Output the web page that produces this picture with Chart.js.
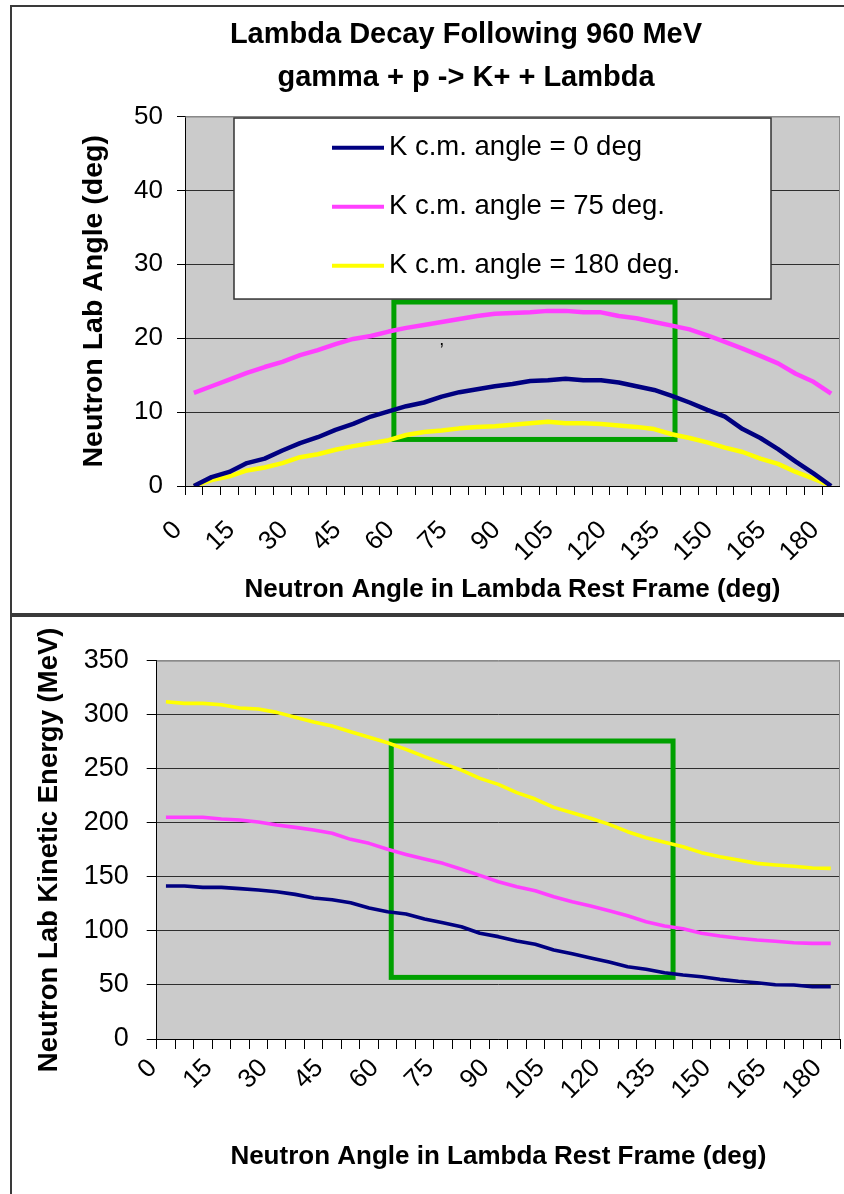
<!DOCTYPE html>
<html>
<head>
<meta charset="utf-8">
<title>Lambda Decay Following 960 MeV</title>
<script src="https://cdn.jsdelivr.net/npm/chart.js@4.4.1/dist/chart.umd.min.js"></script>
<style>
  html, body { margin: 0; padding: 0; background: #fff; }
  body { position: relative; width: 844px; height: 1194px; overflow: hidden; }
  .frame { position: absolute; left: 10px; width: 834px; border-left: 2px solid #3a3a3a; box-sizing: border-box; }
  #topFrame { top: 5px; height: 610px; border-top: 2px solid #3a3a3a; border-bottom: 2px solid #3a3a3a; }
  #bottomFrame { top: 615px; height: 579px; border-top: 2px solid #3a3a3a; }
  canvas { position: absolute; left: 0; }
  #angleChart { top: 0; }
  #energyChart { top: 616px; }
</style>
</head>
<body>
<div class="frame" id="topFrame"></div>
<div class="frame" id="bottomFrame"></div>
<canvas id="angleChart" width="840" height="612"></canvas>
<canvas id="energyChart" width="844" height="578"></canvas>

<script>
// ============================================================
// Data: neutron angle in the Lambda rest frame (deg), step 5
// ============================================================
const restAngles = ['0', '5', '10', '15', '20', '25', '30', '35', '40', '45', '50', '55', '60',
  '65', '70', '75', '80', '85', '90', '95', '100', '105', '110', '115', '120', '125', '130',
  '135', '140', '145', '150', '155', '160', '165', '170', '175', '180'];

const seriesNames = ['K c.m. angle = 0 deg', 'K c.m. angle = 75 deg.', 'K c.m. angle = 180 deg.'];
const seriesColors = ['#000080', '#ff40ff', '#ffff00'];

// Neutron lab angle (deg)
const labAngleK0 = [0, 1.2, 1.9, 3.1, 3.7, 4.8, 5.8, 6.6, 7.6, 8.4, 9.4, 10.1, 10.8, 11.3, 12.1,
  12.7, 13.1, 13.5, 13.8, 14.2, 14.3, 14.5, 14.3, 14.3, 14.0, 13.5, 13.0, 12.2, 11.3, 10.3, 9.4,
  7.7, 6.5, 5.0, 3.3, 1.7, 0];
const labAngleK75 = [12.6, 13.5, 14.4, 15.3, 16.1, 16.8, 17.7, 18.4, 19.2, 19.9, 20.3, 20.9, 21.4,
  21.8, 22.2, 22.6, 23.0, 23.3, 23.4, 23.5, 23.7, 23.7, 23.5, 23.5, 23.0, 22.7, 22.2, 21.7, 21.2,
  20.4, 19.5, 18.6, 17.6, 16.6, 15.2, 14.1, 12.5];
const labAngleK180 = [0, 0.8, 1.3, 2.1, 2.5, 3.1, 3.9, 4.3, 4.9, 5.4, 5.8, 6.2, 6.9, 7.3, 7.5, 7.8,
  8.0, 8.1, 8.3, 8.5, 8.7, 8.5, 8.5, 8.4, 8.2, 8.0, 7.7, 7.0, 6.5, 5.9, 5.2, 4.6, 3.7, 3.0, 1.9,
  1.0, 0];

// Neutron lab kinetic energy (MeV)
const energyK0 = [141.5, 141.5, 140.3, 140.3, 139.1, 137.8, 136.3, 133.8, 130.4, 128.9, 126.1,
  121.2, 117.8, 115.6, 111.0, 107.6, 103.9, 97.8, 94.7, 90.7, 87.6, 82.3, 78.9, 74.9, 71.2, 66.9,
  64.5, 61.3, 59.2, 57.6, 55.2, 53.4, 52.1, 50.2, 50.0, 48.4, 48.4];
const energyK75 = [205.1, 205.1, 205.1, 203.5, 202.6, 200.7, 198.0, 195.8, 193.3, 190.3, 184.7,
  181.0, 175.5, 170.8, 166.5, 162.5, 157.0, 151.4, 145.5, 140.9, 137.2, 131.6, 127.0, 123.0, 118.7,
  114.1, 108.5, 104.5, 102.0, 97.8, 95.3, 93.2, 91.6, 90.4, 89.1, 88.5, 88.5];
const energyK180 = [312.0, 310.5, 310.5, 309.3, 306.2, 305.3, 302.2, 297.6, 293.3, 289.5, 284.3,
  279.1, 274.1, 268.0, 261.2, 255.0, 248.8, 241.1, 235.6, 227.9, 222.0, 214.3, 209.4, 204.2, 198.6,
  191.8, 186.2, 182.0, 177.9, 172.4, 168.6, 165.6, 162.5, 161.0, 159.8, 158.2, 157.9];

// Highlighted windows: [from deg, to deg] x [low, high] in axis units
const angleWindowX = [56.5, 135.9];
const angleWindowY = [6.3, 24.9];
const energyWindowX = [61, 137.3];
const energyWindowY = [57, 275.7];

const ANGLE_STEP = 5;     // degrees between categories
const LABEL_EVERY = 3;    // one tick label per 15 deg

Chart.defaults.font.family = '"Liberation Sans", Arial, sans-serif';
Chart.defaults.color = '#000';

// ============================================================
// Plugins
// ============================================================

// Grey plot area, thin grey frame along the top and right
const plotArea = {
  id: 'plotArea',
  beforeDraw(chart, args, opts) {
    const { ctx, chartArea: a } = chart;
    ctx.save();
    ctx.fillStyle = opts.color;
    ctx.fillRect(a.left, a.top, a.width, a.height);
    ctx.restore();
  },
  beforeDatasetsDraw(chart, args, opts) {
    const { ctx, chartArea: a } = chart;
    ctx.save();
    ctx.strokeStyle = opts.borderColor;
    ctx.lineWidth = 1;
    ctx.beginPath();
    ctx.moveTo(a.left, a.top + 0.5);
    ctx.lineTo(a.right - 0.5, a.top + 0.5);
    ctx.lineTo(a.right - 0.5, a.bottom);
    ctx.stroke();
    ctx.restore();
  }
};

// Green rectangle marking the region of interest (in degrees / axis units)
const windowBox = {
  id: 'windowBox',
  beforeDatasetsDraw(chart, args, opts) {
    if (!opts.xRange) return;
    const { ctx, scales: { x, y } } = chart;
    const x0 = x.getPixelForValue(opts.xRange[0] / ANGLE_STEP);
    const x1 = x.getPixelForValue(opts.xRange[1] / ANGLE_STEP);
    const y0 = y.getPixelForValue(opts.yRange[0]);
    const y1 = y.getPixelForValue(opts.yRange[1]);
    ctx.save();
    ctx.strokeStyle = opts.color;
    ctx.lineWidth = opts.width;
    ctx.strokeRect(x0, y1, x1 - x0, y0 - y1);
    if (opts.note) {
      ctx.fillStyle = '#000';
      ctx.font = '18px "Liberation Sans", Arial, sans-serif';
      ctx.textAlign = 'center';
      ctx.textBaseline = 'middle';
      ctx.fillText(opts.note.text, x.getPixelForValue(opts.note.at[0] / ANGLE_STEP), y.getPixelForValue(opts.note.at[1]));
    }
    ctx.restore();
  }
};

// White legend panel sitting inside the plot area
const boxedLegend = {
  id: 'boxedLegend',
  afterDatasetsDraw(chart, args, opts) {
    if (!opts.display) return;
    const { ctx, chartArea: a } = chart;
    const left = a.left + opts.left;
    const top = a.top + opts.top;
    ctx.save();
    ctx.fillStyle = '#fff';
    ctx.fillRect(left, top, opts.width, opts.height);
    ctx.strokeStyle = '#333';
    ctx.lineWidth = 1.5;
    ctx.strokeRect(left, top, opts.width, opts.height);
    ctx.font = opts.fontSize + 'px "Liberation Sans", Arial, sans-serif';
    ctx.textBaseline = 'middle';
    ctx.textAlign = 'left';
    chart.data.datasets.forEach((ds, i) => {
      const cy = top + opts.firstRow + i * opts.rowGap;
      ctx.strokeStyle = ds.borderColor;
      ctx.lineWidth = 4;
      ctx.beginPath();
      ctx.moveTo(left + opts.swatchFrom, cy);
      ctx.lineTo(left + opts.swatchTo, cy);
      ctx.stroke();
      ctx.fillStyle = '#000';
      ctx.fillText(ds.label, left + opts.textX, cy);
    });
    ctx.restore();
  }
};

// ============================================================
// Shared builders
// ============================================================
function buildDatasets(values, width) {
  return values.map((data, i) => ({
    label: seriesNames[i],
    data,
    borderColor: seriesColors[i],
    backgroundColor: seriesColors[i],
    borderWidth: width,
    borderJoinStyle: 'round',
    pointRadius: 0,
    tension: 0,
    fill: false
  }));
}

function angleAxis(cfg) {
  return {
    type: 'category',
    offset: true,
    grid: { offset: true, drawOnChartArea: false, tickLength: cfg.tickLength, color: '#000' },
    border: { color: '#000', width: 1 },
    ticks: {
      autoSkip: false,
      minRotation: 45,
      maxRotation: 45,
      font: { size: cfg.fontSize },
      padding: cfg.padding,
      labelOffset: cfg.labelOffset,
      callback(value, index) {
        return index % LABEL_EVERY === 0 ? this.getLabelForValue(value) : '';
      }
    },
    title: {
      display: true,
      text: 'Neutron Angle in Lambda Rest Frame (deg)',
      font: { size: 26, weight: 'bold' },
      padding: { top: 0, bottom: cfg.titleBottom }
    },
    afterFit(scale) {
      scale.height = cfg.height;
      // rotated labels end at their tick, so no side padding is needed
      scale.paddingLeft = 0;
      scale.paddingRight = 0;
    }
  };
}

function valueAxis(cfg) {
  return {
    min: 0,
    max: cfg.max,
    grid: {
      color: ctx => (ctx.tick && ctx.tick.value === cfg.max ? '#8a8a8a' : '#2e2e2e'),
      tickColor: '#000',
      tickLength: cfg.tickLength,
      lineWidth: 1
    },
    border: { color: '#000', width: 1 },
    ticks: { stepSize: cfg.step, font: { size: cfg.fontSize }, padding: cfg.padding },
    title: {
      display: true,
      text: cfg.title,
      font: { size: cfg.titleSize, weight: 'bold' },
      padding: { top: cfg.titleOffset, bottom: 0 }
    },
    afterFit(scale) { scale.width = cfg.width; }
  };
}

// ============================================================
// Top chart: neutron lab angle
// ============================================================
new Chart(document.getElementById('angleChart'), {
  type: 'line',
  data: {
    labels: restAngles,
    datasets: buildDatasets([labAngleK0, labAngleK75, labAngleK180], 4.5)
  },
  plugins: [plotArea, windowBox, boxedLegend],
  options: {
    responsive: false,
    animation: false,
    devicePixelRatio: 1,
    // left padding centres the title over the frame; the axis title sits back inside it
    layout: { padding: { top: 0, right: 0, bottom: 0, left: 92 } },
    plugins: {
      legend: { display: false },
      tooltip: { enabled: false },
      title: {
        display: true,
        text: ['Lambda Decay Following 960 MeV', 'gamma + p -> K+ + Lambda'],
        color: '#000',
        font: { size: 29, weight: 'bold', lineHeight: 1.48 },
        padding: { top: 13.5, bottom: 17.2 }
      },
      plotArea: { color: '#cbcbcb', borderColor: '#8a8a8a' },
      windowBox: {
        xRange: angleWindowX, yRange: angleWindowY, color: '#00a000', width: 5,
        note: { text: ',', at: [70, 19.8] }
      },
      boxedLegend: {
        display: true, left: 49, top: 1.5, width: 537, height: 181,
        firstRow: 29.7, rowGap: 59, swatchFrom: 98, swatchTo: 150, textX: 155, fontSize: 27.5
      }
    },
    scales: {
      x: angleAxis({ tickLength: 9, fontSize: 26, padding: 20, labelOffset: -16, titleBottom: 6.4, height: 126 }),
      y: valueAxis({
        max: 50, step: 10, fontSize: 26, tickLength: 8, padding: 14,
        title: 'Neutron Lab Angle (deg)', titleSize: 28.5, titleOffset: -14.6, width: 93
      })
    }
  }
});

// ============================================================
// Bottom chart: neutron lab kinetic energy
// ============================================================
new Chart(document.getElementById('energyChart'), {
  type: 'line',
  data: {
    labels: restAngles,
    datasets: buildDatasets([energyK0, energyK75, energyK180], 3.6)
  },
  plugins: [plotArea, windowBox],
  options: {
    responsive: false,
    animation: false,
    devicePixelRatio: 1,
    layout: { padding: { top: 44.7, right: 4, bottom: 0, left: 0 } },
    plugins: {
      legend: { display: false },
      tooltip: { enabled: false },
      plotArea: { color: '#cbcbcb', borderColor: '#8a8a8a' },
      windowBox: { xRange: energyWindowX, yRange: energyWindowY, color: '#00a000', width: 5 }
    },
    scales: {
      x: angleAxis({ tickLength: 10, fontSize: 26, padding: 4, labelOffset: -13, titleBottom: 21.4, height: 155 }),
      y: valueAxis({
        max: 350, step: 50, fontSize: 27, tickLength: 10, padding: 18,
        title: 'Neutron Lab Kinetic Energy (MeV)', titleSize: 27.5, titleOffset: 33, width: 156.7
      })
    }
  }
});
</script>
</body>
</html>
